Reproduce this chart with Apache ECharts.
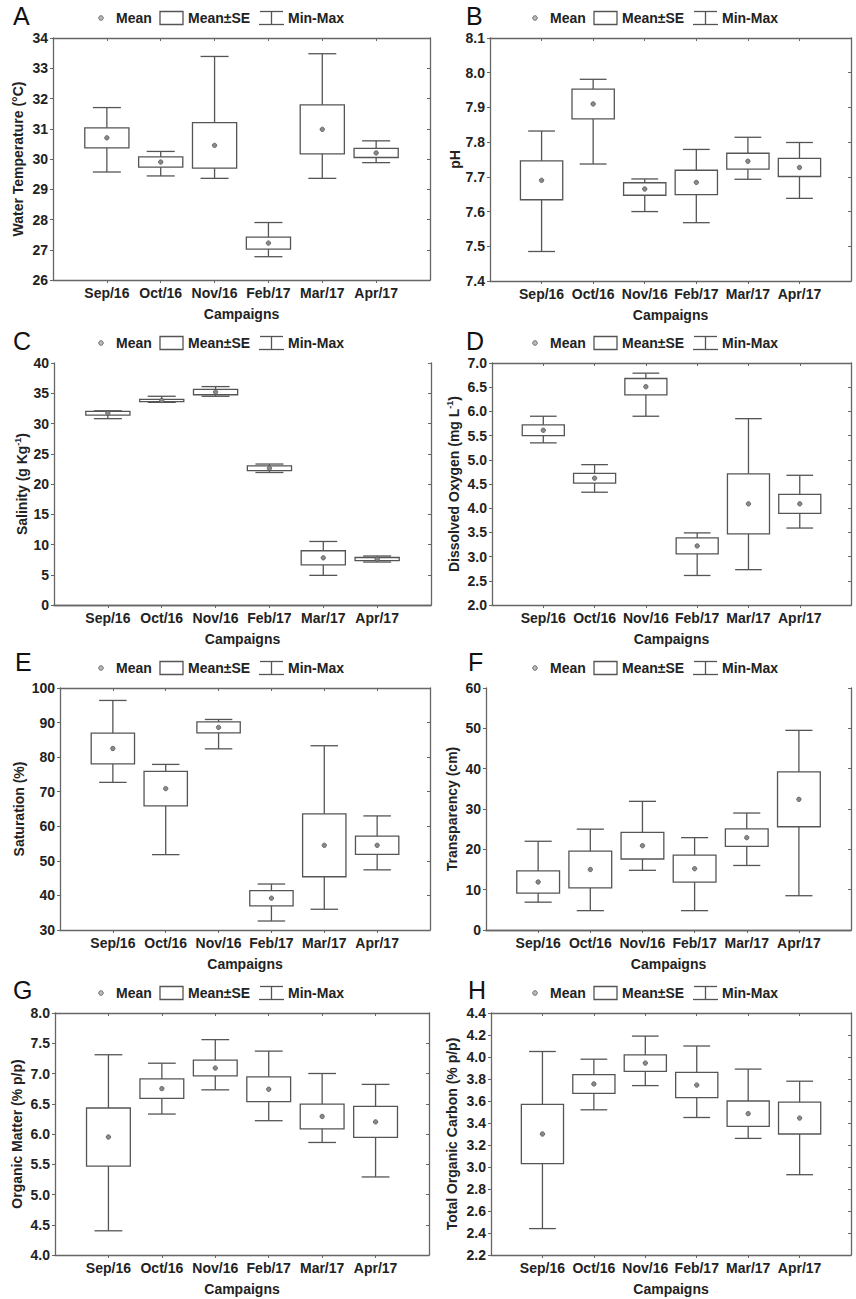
<!DOCTYPE html>
<html>
<head>
<meta charset="utf-8">
<script src="https://cdn.jsdelivr.net/npm/echarts@6/dist/echarts.min.js"></script>
<style>
  html, body { margin: 0; padding: 0; background: #fff; }
  #main { width: 856px; height: 1299px; }
</style>
</head>
<body>
<div id="main"></div>
<script>
  var campaigns = ['Sep/16', 'Oct/16', 'Nov/16', 'Feb/17', 'Mar/17', 'Apr/17']

  // A - water temperature
  var tempMean = [30.7, 29.9, 30.45, 27.22, 30.98, 30.2]
  var tempSE = [0.33, 0.17, 0.75, 0.2, 0.81, 0.15]
  var tempMin = [29.57, 29.44, 29.36, 26.77, 29.36, 29.88]
  var tempMax = [31.7, 30.25, 33.39, 27.9, 33.48, 30.6]

  // B - pH
  var phMean = [7.69, 7.91, 7.665, 7.684, 7.745, 7.727]
  var phSE = [0.056, 0.043, 0.018, 0.035, 0.023, 0.026]
  var phMin = [7.485, 7.737, 7.6, 7.568, 7.693, 7.638]
  var phMax = [7.832, 7.981, 7.694, 7.779, 7.814, 7.799]

  // C - salinity
  var salMean = [31.7, 33.8, 35.2, 22.6, 7.8, 7.6]
  var salSE = [0.3, 0.2, 0.45, 0.4, 1.17, 0.25]
  var salMin = [30.8, 33.5, 34.5, 21.9, 4.9, 7.1]
  var salMax = [32.1, 34.5, 36.1, 23.3, 10.5, 8.1]

  // D - dissolved oxygen
  var doMean = [5.61, 4.62, 6.51, 3.22, 4.09, 4.09]
  var doSE = [0.11, 0.1, 0.17, 0.165, 0.62, 0.195]
  var doMin = [5.35, 4.33, 5.9, 2.61, 2.73, 3.59]
  var doMax = [5.9, 4.9, 6.79, 3.49, 5.85, 4.68]

  // E - saturation
  var satMean = [82.5, 70.9, 88.6, 39.2, 54.5, 54.5]
  var satSE = [4.45, 5.0, 1.6, 2.2, 9.1, 2.65]
  var satMin = [72.7, 51.8, 82.4, 32.6, 36.0, 47.4]
  var satMax = [96.4, 77.9, 90.9, 43.3, 83.3, 63.0]

  // F - transparency
  var trMean = [11.9, 15.0, 20.9, 15.2, 22.9, 32.4]
  var trSE = [2.75, 4.55, 3.3, 3.35, 2.15, 6.8]
  var trMin = [6.9, 4.8, 14.8, 4.8, 16.0, 8.5]
  var trMax = [22.0, 25.0, 31.9, 22.9, 29.0, 49.5]

  // G - organic matter
  var omMean = [5.95, 6.75, 7.09, 6.74, 6.29, 6.2]
  var omSE = [0.48, 0.16, 0.13, 0.205, 0.205, 0.255]
  var omMin = [4.4, 6.33, 6.73, 6.22, 5.86, 5.29]
  var omMax = [7.31, 7.17, 7.56, 7.37, 7.0, 6.82]

  // H - total organic carbon
  var tocMean = [3.3, 3.755, 3.945, 3.745, 3.485, 3.445]
  var tocSE = [0.27, 0.085, 0.075, 0.115, 0.115, 0.145]
  var tocMin = [2.44, 3.52, 3.74, 3.45, 3.26, 2.93]
  var tocMax = [4.05, 3.98, 4.19, 4.1, 3.89, 3.78]

  var panels = [
    { letter: 'A', name: 'Water Temperature (°C)', mean: tempMean, se: tempSE, min: tempMin, max: tempMax, yMin: 26, yMax: 34, step: 1, dec: 0,
      grid: { left: 53, top: 38, width: 377, height: 242 }, gap: 28 },
    { letter: 'B', name: 'pH', mean: phMean, se: phSE, min: phMin, max: phMax, yMin: 7.4, yMax: 8.1, step: 0.1, dec: 1,
      grid: { left: 490, top: 38, width: 374, height: 243 }, gap: 28 },
    { letter: 'C', name: 'Salinity (g Kg{sup|-1})', mean: salMean, se: salSE, min: salMin, max: salMax, yMin: 0, yMax: 40, step: 5, dec: 0,
      grid: { left: 54, top: 363, width: 377, height: 242 }, gap: 24 },
    { letter: 'D', name: 'Dissolved Oxygen (mg L{sup|-1})', mean: doMean, se: doSE, min: doMin, max: doMax, yMin: 2, yMax: 7, step: 0.5, dec: 1,
      grid: { left: 492, top: 363, width: 371, height: 242 }, gap: 30 },
    { letter: 'E', name: 'Saturation (%)', mean: satMean, se: satSE, min: satMin, max: satMax, yMin: 30, yMax: 100, step: 10, dec: 0,
      grid: { left: 60, top: 688, width: 370, height: 242 }, gap: 34 },
    { letter: 'F', name: 'Transparency (cm)', mean: trMean, se: trSE, min: trMin, max: trMax, yMin: 0, yMax: 60, step: 10, dec: 0,
      grid: { left: 486, top: 688, width: 378, height: 242 }, gap: 27 },
    { letter: 'G', name: 'Organic Matter (% p/p)', mean: omMean, se: omSE, min: omMin, max: omMax, yMin: 4, yMax: 8, step: 0.5, dec: 1,
      grid: { left: 55, top: 1013, width: 374, height: 242 }, gap: 31 },
    { letter: 'H', name: 'Total Organic Carbon (% p/p)', mean: tocMean, se: tocSE, min: tocMin, max: tocMax, yMin: 2.2, yMax: 4.4, step: 0.2, dec: 1,
      grid: { left: 491, top: 1013, width: 374, height: 242 }, gap: 32 }
  ]

  // panel letter + legend anchors (x offset of legend block, y centre)
  var heads = [
    { lx: 13, ly: 16, gx: 0, gy: 18 },
    { lx: 466, ly: 16, gx: 434, gy: 18 },
    { lx: 13, ly: 341, gx: 0, gy: 343 },
    { lx: 466, ly: 341, gx: 434, gy: 343 },
    { lx: 15, ly: 662, gx: 0, gy: 668 },
    { lx: 468, ly: 662, gx: 434, gy: 668 },
    { lx: 13, ly: 990, gx: 0, gy: 993 },
    { lx: 468, ly: 990, gx: 434, gy: 993 }
  ]

  var FONT = '"Liberation Sans", Arial, sans-serif'
  var LINE = '#555'
  var FRAME = '#666'
  var TXT = '#222'
  var xCats = [''].concat(campaigns).concat([' '])

  var myChart = echarts.init(document.getElementById('main'), null, { renderer: 'svg' })

  function renderBox (params, api) {
    var x = api.value(0)
    var pMin = api.coord([x, api.value(1)])
    var pLo = api.coord([x, api.value(2)])
    var pMean = api.coord([x, api.value(3)])
    var pHi = api.coord([x, api.value(4)])
    var pMax = api.coord([x, api.value(5)])
    var unit = api.size([1, 0])[0]
    var bw = unit * 0.41
    var cw = unit * 0.26
    var cx = pMean[0]
    var ls = { stroke: LINE, lineWidth: 1.3, fill: null }
    return {
      type: 'group',
      children: [
        { type: 'line', shape: { x1: cx, y1: pMax[1], x2: cx, y2: pHi[1] }, style: ls },
        { type: 'line', shape: { x1: cx, y1: pLo[1], x2: cx, y2: pMin[1] }, style: ls },
        { type: 'line', shape: { x1: cx - cw, y1: pMax[1], x2: cx + cw, y2: pMax[1] }, style: ls },
        { type: 'line', shape: { x1: cx - cw, y1: pMin[1], x2: cx + cw, y2: pMin[1] }, style: ls },
        { type: 'rect', shape: { x: cx - bw, y: pHi[1], width: bw * 2, height: pLo[1] - pHi[1] }, style: ls },
        { type: 'circle', shape: { cx: cx, cy: pMean[1], r: 2.2 }, style: { fill: '#8a8a8a', stroke: '#555', lineWidth: 0.8 } }
      ]
    }
  }

  function legendParts (h) {
    var ox = h.gx
    var y = h.gy
    var ts = { font: 'bold 14px ' + FONT, fill: TXT, textVerticalAlign: 'middle' }
    var ls = { stroke: LINE, lineWidth: 1.3, fill: null }
    return [
      { type: 'circle', shape: { cx: ox + 101, cy: y, r: 2.3 }, style: { fill: '#bbb', stroke: '#666', lineWidth: 0.9 } },
      { type: 'text', x: ox + 116, y: y, style: Object.assign({ text: 'Mean' }, ts) },
      { type: 'rect', shape: { x: ox + 160, y: y - 6.5, width: 23, height: 13 }, style: ls },
      { type: 'text', x: ox + 188, y: y, style: Object.assign({ text: 'Mean±SE' }, ts) },
      { type: 'line', shape: { x1: ox + 260, y1: y - 6.5, x2: ox + 283, y2: y - 6.5 }, style: ls },
      { type: 'line', shape: { x1: ox + 271.5, y1: y - 6.5, x2: ox + 271.5, y2: y + 6.5 }, style: ls },
      { type: 'line', shape: { x1: ox + 259, y1: y + 6.5, x2: ox + 284, y2: y + 6.5 }, style: ls },
      { type: 'text', x: ox + 288, y: y, style: Object.assign({ text: 'Min-Max' }, ts) }
    ]
  }

  function getOption () {
    var option = {
      backgroundColor: '#fff',
      animation: false,
      textStyle: { fontFamily: FONT },
      grid: [],
      xAxis: [],
      yAxis: [],
      series: [],
      graphic: []
    }
    panels.forEach(function (p, i) {
      option.grid.push(Object.assign({ containLabel: false }, p.grid))
      var frame = { show: true, lineStyle: { color: FRAME, width: 1.3 } }
      var tickShow = function (idx) { return idx > 0 && idx < 7 }
      // bottom category axis
      option.xAxis.push({
        type: 'category', gridIndex: i, data: xCats, boundaryGap: false, position: 'bottom',
        name: 'Campaigns', nameLocation: 'middle', nameGap: 27,
        nameTextStyle: { fontFamily: FONT, fontWeight: 'bold', fontSize: 14, color: TXT },
        axisLine: frame,
        axisTick: { show: true, interval: tickShow, length: 3, lineStyle: { color: FRAME } },
        axisLabel: { interval: 0, margin: 6, fontFamily: FONT, fontWeight: 'bold', fontSize: 14, color: TXT },
        splitLine: { show: false }
      })
      // top frame with inside ticks
      option.xAxis.push({
        type: 'category', gridIndex: i, data: xCats, boundaryGap: false, position: 'top',
        axisLine: frame,
        axisTick: { show: true, inside: true, interval: tickShow, length: 3, lineStyle: { color: FRAME } },
        axisLabel: { show: false },
        splitLine: { show: false }
      })
      var yBase = {
        type: 'value', gridIndex: i, min: p.yMin, max: p.yMax, interval: p.step,
        splitLine: { show: false }, axisLine: frame
      }
      option.yAxis.push(Object.assign({}, yBase, {
        position: 'left',
        name: p.name, nameLocation: 'middle', nameGap: p.gap,
        nameTextStyle: {
          fontFamily: FONT, fontWeight: 'bold', fontSize: 14, color: TXT,
          rich: { sup: { fontFamily: FONT, fontWeight: 'bold', fontSize: 9, color: TXT, verticalAlign: 'top', padding: [0, 0, 8, 0] } }
        },
        axisTick: { show: true, length: 3, lineStyle: { color: FRAME } },
        axisLabel: {
          margin: 5, fontFamily: FONT, fontWeight: 'bold', fontSize: 14, color: TXT,
          formatter: (function (d) { return function (v) { return Number(v).toFixed(d) } })(p.dec)
        }
      }))
      option.yAxis.push(Object.assign({}, yBase, {
        position: 'right',
        axisTick: { show: true, inside: true, length: 3, lineStyle: { color: FRAME } },
        axisLabel: { show: false }
      }))
      var data = campaigns.map(function (c, k) {
        return [k + 1, p.min[k], p.mean[k] - p.se[k], p.mean[k], p.mean[k] + p.se[k], p.max[k]]
      })
      option.series.push({
        type: 'custom', name: p.letter, xAxisIndex: i * 2, yAxisIndex: i * 2,
        renderItem: renderBox, data: data, clip: false,
        encode: { x: 0, y: [1, 2, 3, 4, 5] }
      })
      var h = heads[i]
      option.graphic.push({
        type: 'text', x: h.lx, y: h.ly,
        style: { text: p.letter, font: '25px ' + FONT, fill: '#111', textVerticalAlign: 'middle' }
      })
      option.graphic = option.graphic.concat(legendParts(h))
    })
    return option
  }

  myChart.setOption(getOption())
</script>
</body>
</html>
